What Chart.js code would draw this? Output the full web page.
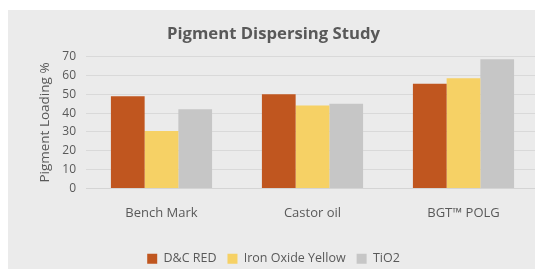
<!DOCTYPE html>
<html>
<head>
<meta charset="utf-8">
<script src="https://cdn.jsdelivr.net/npm/chart.js@4"></script>
<style>
  html, body { margin: 0; padding: 0; background: #fff; overflow: hidden; }
  #wrap { position: absolute; left: 8px; top: 10px; width: 531px; height: 259px; background: #ebebeb; overflow: hidden; }
</style>
</head>
<body>
<div id="wrap"><canvas id="chart" width="531" height="259"></canvas></div>
<script>
const categories = ['Bench Mark', 'Castor oil', 'BGT\u2122 POLG'];
const dcRed = [49, 50, 55.5];
const ironOxideYellow = [30.5, 44, 58.5];
const tio2 = [42, 45, 68.5];

const grey = '#595959';
const font = 'Open Sans';

new Chart(document.querySelector('#chart').getContext('2d'), {
    type: 'bar',
    data: {
        labels: categories,
        datasets: [
            { label: 'D&C RED', data: dcRed, backgroundColor: '#c0561f' },
            { label: 'Iron Oxide Yellow', data: ironOxideYellow, backgroundColor: '#f6d165' },
            { label: 'TiO2', data: tio2, backgroundColor: '#c6c6c6' }
        ]
    },
    options: {
        responsive: false,
        animation: false,
        layout: { padding: { left: 0, right: 0, top: 0, bottom: -6 } },
        datasets: { bar: { barPercentage: 1, categoryPercentage: 0.67 } },
        plugins: {
            title: {
                display: true,
                text: 'Pigment Dispersing Study',
                color: grey,
                font: { family: font, size: 16.7, weight: 'bold' },
                padding: { top: 14, bottom: 12.5 }
            },
            legend: {
                position: 'bottom',
                labels: {
                    color: grey,
                    font: { family: font, size: 12.5 },
                    boxWidth: 10,
                    boxHeight: 10,
                    padding: 11
                }
            },
            tooltip: { enabled: false }
        },
        scales: {
            x: {
                grid: { display: false },
                border: { display: true, color: '#d4d4d4' },
                ticks: { color: grey, font: { family: font, size: 13 }, padding: 9 },
                afterFit: s => { s.height = 53; }
            },
            y: {
                min: 0,
                max: 70,
                ticks: { stepSize: 10, color: grey, font: { family: font, size: 12 }, padding: 10 },
                grid: { color: '#d9d9d9', drawTicks: false },
                border: { display: false },
                title: {
                    display: true,
                    text: 'Pigment Loading %',
                    color: grey,
                    font: { family: font, size: 13.5 },
                    padding: { top: 29, bottom: 0 }
                },
                afterFit: s => { s.width = 78; }
            }
        }
    }
});
</script>
</body>
</html>
